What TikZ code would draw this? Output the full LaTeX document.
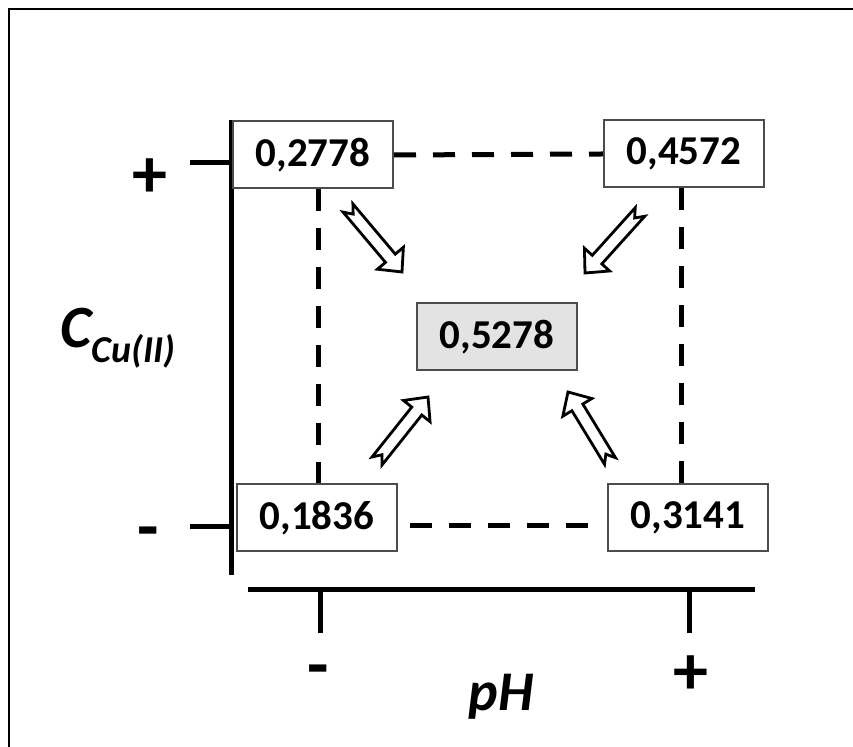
\documentclass[tikz,border=0pt]{standalone}
\usepackage{fontspec}
\setmainfont{Carlito}
\usetikzlibrary{calc}
\newcommand{\hollowarr}[2]{%
  \coordinate (#1-h) at ($(#2)!9pt!(#1)$);
  \coordinate (#1-n) at ($(#1)!4pt!(#2)$);
  \draw[hollow] ($(#1)!3.2pt!90:(#2)$) -- ($(#1-h)!3.2pt!-90:(#1)$) -- ($(#1-h)!8.5pt!-90:(#1)$) -- (#2) -- ($(#1-h)!8.5pt!90:(#1)$) -- ($(#1-h)!3.2pt!90:(#1)$) -- ($(#1)!3.2pt!-90:(#2)$) -- (#1-n) -- cycle;}
\begin{document}
\begin{tikzpicture}[x=0.5pt,y=-0.5pt,
  valbox/.style={draw=black!70, line width=1pt, fill=white, minimum width=80pt, minimum height=33.5pt, inner sep=0pt, font=\fontsize{20.5}{20.5}\selectfont\bfseries},
  axisline/.style={line width=2.5pt, black},
  dashline/.style={line width=2.5pt, black, dash pattern=on 11pt off 8.5pt},
  hollow/.style={draw=black, line width=1.4pt, fill=white, line join=miter},
  signlabel/.style={inner sep=0pt, font=\fontsize{35}{35}\selectfont\bfseries},
]
\useasboundingbox (0,0) rectangle (853,747);
% frame
\draw[line width=1pt] (9,747) -- (9,9) -- (853,9);
% axes
\coordinate (ytop) at (231,120);
\coordinate (ybot) at (231,575);
\coordinate (xl0) at (248,590);
\coordinate (xr0) at (755,590);
\draw[axisline] (ytop) -- (ybot);
\draw[axisline] (xl0) -- (xr0);
\coordinate (yt1) at (190,163);
\coordinate (yt2) at (190,527);
\draw[axisline] (yt1) -- (yt1 -| ytop);
\draw[axisline] (yt2) -- (yt2 -| ytop);
\coordinate (xt1) at (320,633);
\coordinate (xt2) at (689,633);
\draw[axisline] (xt1) -- (xt1 |- xl0);
\draw[axisline] (xt2) -- (xt2 |- xl0);
% axis labels
\node[signlabel] (yplus) at (150,178) {+};
\node[signlabel] (yminus) at (148,539) {-};
\node[signlabel] (xminus) at (318,677) {-};
\node[signlabel] (xplus) at (691,675) {+};
\node[inner sep=0pt, font=\fontsize{28}{28}\selectfont\bfseries\itshape] (ph) at (501,697) {pH};
\node[inner sep=0pt, anchor=base west] (cc) at (60,348) {\fontsize{30}{30}\selectfont\bfseries\itshape C\raisebox{-7.5pt}{\fontsize{19}{19}\selectfont Cu(II)}};
% boxes
\node[valbox] (b1) at (313,155) {0,2778};
\node[valbox] (b2) at (684,154) {0,4572};
\node[valbox] (b3) at (317,518) {0,1836};
\node[valbox] (b4) at (688,518) {0,3141};
\node[valbox, fill=black!11] (b0) at (497,337) {0,5278};
% dashed connectors
\coordinate (xl) at (318,0);
\coordinate (xr) at (681,0);
\coordinate (yb) at (0,526);
\draw[dashline] (b1.east) -- (b2.west);
\draw[dashline] (b1.south -| xl) -- (b3.north -| xl);
\draw[dashline] (b2.south -| xr) -- (b4.north -| xr);
\draw[dashline, shorten <=6pt, shorten >=6pt] (b3.east |- yb) -- (b4.west |- yb);
% hollow arrows
\coordinate (ta1) at (348,208); \coordinate (tb1) at (402,272);
\coordinate (ta2) at (640,212); \coordinate (tb2) at (585,273);
\coordinate (ta3) at (377,461); \coordinate (tb3) at (428,397);
\coordinate (ta4) at (610,461); \coordinate (tb4) at (568,392);
\hollowarr{ta1}{tb1}
\hollowarr{ta2}{tb2}
\hollowarr{ta3}{tb3}
\hollowarr{ta4}{tb4}
\end{tikzpicture}
\end{document}
